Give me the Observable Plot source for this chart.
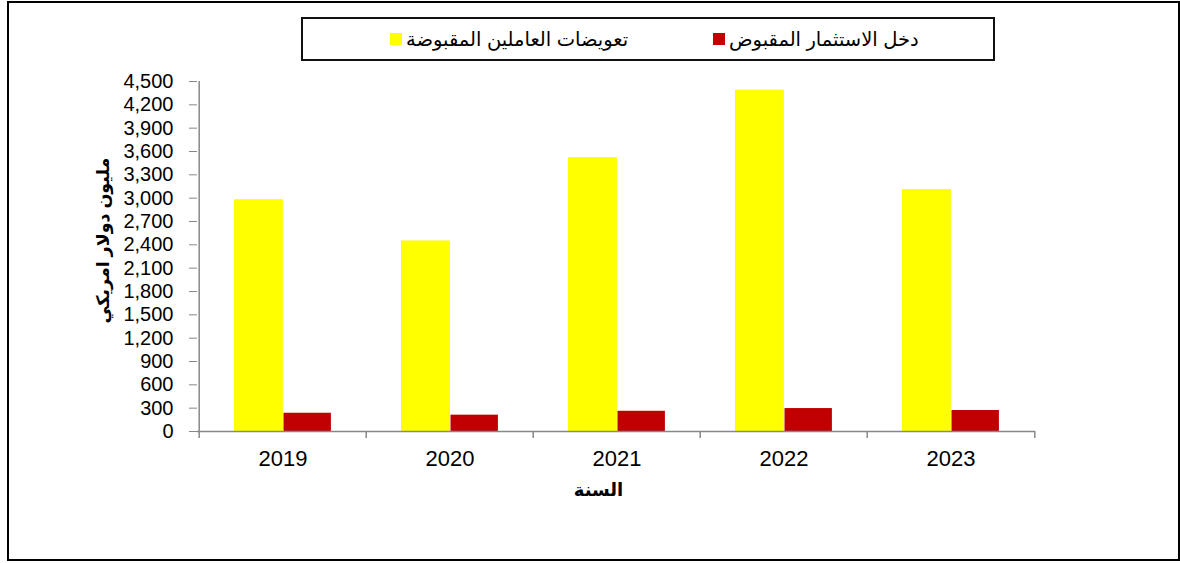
<!DOCTYPE html>
<html>
<head>
<meta charset="utf-8">
<script src="https://cdn.jsdelivr.net/npm/d3@7"></script>
<script src="https://cdn.jsdelivr.net/npm/@observablehq/plot@0.6"></script>
<style>
  html, body { margin: 0; padding: 0; background: #fff; }
  #wrap { position: relative; width: 1180px; height: 563px; font-family: "Liberation Sans", Arial, "DejaVu Sans", sans-serif; }
  #border { position: absolute; left: 7px; top: 1px; width: 1169px; height: 556px; border: 2px solid #000; box-sizing: content-box; pointer-events: none; }
  #legend { position: absolute; left: 301px; top: 17px; width: 690px; height: 40px; border: 2px solid #111; background: #fff; }
  .item { position: absolute; top: 0; height: 40px; display: flex; align-items: center; direction: ltr; font-size: 19.5px; color: #000; }
  .sw { width: 12px; height: 12px; margin-right: 4px; }
  #chart { position: absolute; left: 0; top: 0; }
</style>
</head>
<body>
<div id="wrap">
  <div id="chart"></div>
  <div id="legend"></div>
  <div id="border"></div>
</div>
<script>
const years = ["2019", "2020", "2021", "2022", "2023"];
const compensation = [2980, 2450, 3520, 4390, 3110];
const investment = [235, 210, 260, 295, 270];
const seriesNames = ["تعويضات العاملين المقبوضة", "دخل الاستثمار المقبوض"];
const seriesColors = ["#FFFF00", "#C00000"];
const yTicks = d3.range(0, 4501, 300);
const yLabel = "مليون دولار امريكي";
const xLabel = "السنة";

const W = 1180, H = 563, ML = 197, MR = 145, MT = 81, MB = 132;
const step = (W - ML - MR) / years.length;

const compData = years.map((y, i) => ({year: y, value: compensation[i]}));
const invData = years.map((y, i) => ({year: y, value: investment[i]}));

const plot = Plot.plot({
  width: W, height: H,
  marginLeft: ML, marginRight: MR, marginTop: MT, marginBottom: MB,
  style: {fontFamily: "'Liberation Sans', Arial, 'DejaVu Sans', sans-serif", background: "transparent"},
  x: {domain: years, padding: 0, axis: null},
  y: {domain: [0, 4500], axis: null},
  marks: [
    Plot.barY(compData, {x: "year", y: "value", fill: seriesColors[0], insetLeft: 35, insetRight: step - 84.5}),
    Plot.barY(invData, {x: "year", y: "value", fill: seriesColors[1], insetLeft: 84.5, insetRight: step - 132.5}),
    Plot.ruleY([0], {stroke: "#888", strokeWidth: 1.5}),
    Plot.ruleX([years[0]], {dx: -step / 2, y1: 0, y2: 4500, stroke: "#888", strokeWidth: 1.5}),
    Plot.ruleX(years, {dx: -step / 2, y1: 0, y2: 0, insetBottom: -7, stroke: "#888", strokeWidth: 1.5}),
    Plot.ruleX([years[years.length - 1]], {dx: step / 2, y1: 0, y2: 0, insetBottom: -7, stroke: "#888", strokeWidth: 1.5}),
    Plot.axisY({ticks: yTicks, tickFormat: d3.format(","), tickSize: 8, tickPadding: 16, fontSize: 20, stroke: "#888", fill: "#000", label: null}),
    Plot.axisX({tickSize: 0, tickPadding: 19, fontSize: 22, fill: "#000", label: null}),
    Plot.text([yLabel], {frameAnchor: "left", text: d => d, rotate: -90, textAnchor: "middle", dx: -94, dy: -16, fontSize: 17.5, fontWeight: "bold", fill: "#000"}),
    Plot.text([xLabel], {frameAnchor: "bottom", text: d => d, dx: -18, dy: 64, fontSize: 18, fontWeight: "bold", fill: "#000"})
  ]
});
document.getElementById("chart").appendChild(plot);

const legend = document.getElementById("legend");
const itemLefts = [87, 410];
[0, 1].forEach(i => {
  const it = document.createElement("div");
  it.className = "item";
  it.style.left = itemLefts[i] + "px";
  const sw = document.createElement("span");
  sw.className = "sw";
  sw.style.background = seriesColors[i];
  const tx = document.createElement("span");
  tx.dir = "rtl";
  tx.textContent = seriesNames[i];
  it.appendChild(sw);
  it.appendChild(tx);
  legend.appendChild(it);
});
</script>
</body>
</html>
